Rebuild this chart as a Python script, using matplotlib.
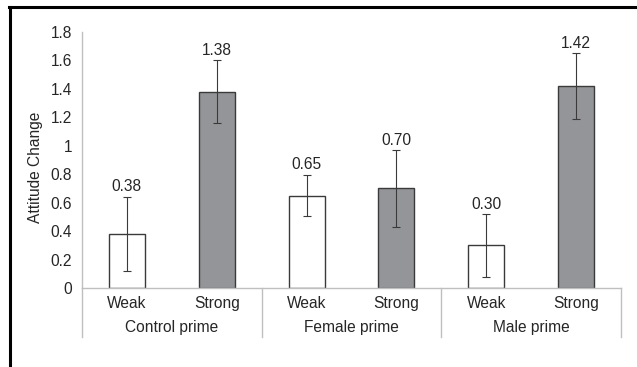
import matplotlib.pyplot as plt
from matplotlib.lines import Line2D
import matplotlib.transforms as mtransforms
import numpy as np

plt.rcParams['font.family'] = ['Liberation Sans', 'DejaVu Sans']

# attitude change by prime and argument strength
groups = ['Control prime', 'Female prime', 'Male prime']
strengths = ['Weak', 'Strong']
means = [0.38, 1.38, 0.65, 0.70, 0.30, 1.42]
errors = [0.26, 0.22, 0.145, 0.27, 0.22, 0.23]
labels = ['0.38', '1.38', '0.65', '0.70', '0.30', '1.42']
yticks = [0, 0.2, 0.4, 0.6, 0.8, 1, 1.2, 1.4, 1.6, 1.8]

text_col = '#262626'
grid_col = '#bfbfbf'
fs = 11.2

fig = plt.figure(figsize=(6.37, 3.67), dpi=100)
ax = fig.add_axes([0.1287, 0.2153, 0.8461, 0.6975])

xpos = np.arange(len(means)) + 0.5
fills = ['white', '#939598'] * len(groups)
ax.bar(xpos, means, width=0.4, color=fills, edgecolor='#3a3a3a', linewidth=1.0, zorder=2)
ax.errorbar(xpos, means, yerr=errors, fmt='none', ecolor='#3a3a3a',
            elinewidth=0.8, capsize=3, capthick=0.8, zorder=3)

for x, m, e, lab in zip(xpos, means, errors, labels):
    ax.annotate(lab, (x, m + e), xytext=(0, 1.8), textcoords='offset points',
                ha='center', va='bottom', fontsize=fs, color=text_col)

ax.set_xlim(0, len(means))
ax.set_ylim(0, 1.8)
ax.set_yticks(yticks)
ax.set_yticklabels([f'{t:g}' for t in yticks])
ax.tick_params(axis='y', length=0, pad=7, labelsize=fs, labelcolor=text_col)
ax.set_xticks([])

for side in ['top', 'right']:
    ax.spines[side].set_visible(False)
for side in ['left', 'bottom']:
    ax.spines[side].set_color(grid_col)
    ax.spines[side].set_linewidth(1.0)

ax.set_ylabel('Attitude Change', fontsize=fs, color=text_col)
ax.yaxis.set_label_coords(-0.073, 0.47)

# two-level category axis
trans = mtransforms.blended_transform_factory(ax.transData, ax.transAxes)
for i, x in enumerate(xpos):
    ax.text(x, -0.0625, strengths[i % 2], transform=trans, ha='center', va='center',
            fontsize=fs, color=text_col)
for g, name in enumerate(groups):
    ax.text(2 * g + 1, -0.156, name, transform=trans, ha='center', va='center',
            fontsize=fs, color=text_col)
for xs in range(0, len(means) + 1, 2):
    ax.plot([xs, xs], [0, -0.19], transform=trans, color=grid_col, lw=1.0, clip_on=False)

# frame on left and top edges
fig.add_artist(Line2D([10 / 637, 10 / 637], [0, 1 - 6.5 / 367], color='black', lw=2.2,
                      transform=fig.transFigure))
fig.add_artist(Line2D([9 / 637, 1], [1 - 6.5 / 367, 1 - 6.5 / 367], color='black', lw=2.2,
                      transform=fig.transFigure))

fig.savefig('out.png', dpi=100)
